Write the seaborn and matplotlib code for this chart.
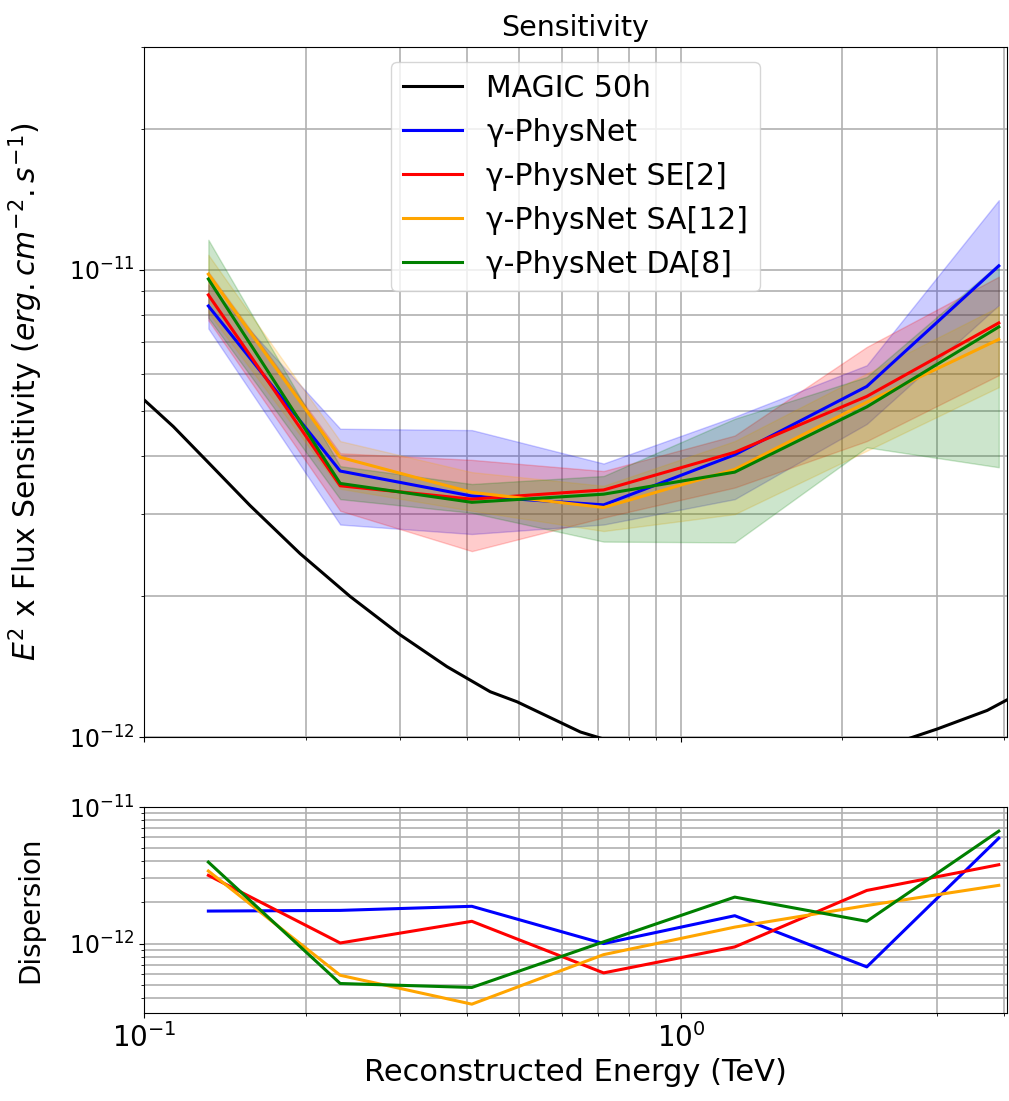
import numpy as np
import pandas as pd
import matplotlib
matplotlib.use("Agg")
import matplotlib.pyplot as plt
from matplotlib.ticker import NullFormatter
import seaborn as sns

# ---------------- data ----------------
energy = [0.1318, 0.232, 0.408, 0.718, 1.26, 2.22, 3.91]

magic_e = [0.1004, 0.1134, 0.1309, 0.1576, 0.1953, 0.242, 0.300, 0.3666, 0.4415,
           0.495, 0.650, 0.718, 1.0, 1.4, 2.0, 2.64, 3.00, 3.72, 4.10]
magic_v = [5.25e-12, 4.62e-12, 3.90e-12, 3.13e-12, 2.47e-12, 2.0e-12, 1.655e-12,
           1.415e-12, 1.25e-12, 1.19e-12, 1.025e-12, 0.99e-12, 0.90e-12, 0.86e-12,
           0.90e-12, 0.99e-12, 1.04e-12, 1.14e-12, 1.21e-12]

sens_blue = [8.37e-12, 3.71e-12, 3.28e-12, 3.14e-12, 4.02e-12, 5.63e-12, 1.02e-11]
sens_red = [8.84e-12, 3.45e-12, 3.23e-12, 3.38e-12, 4.07e-12, 5.36e-12, 7.7e-12]
sens_orange = [9.79e-12, 3.97e-12, 3.34e-12, 3.10e-12, 3.74e-12, 5.21e-12, 7.1e-12]
sens_green = [9.56e-12, 3.49e-12, 3.18e-12, 3.31e-12, 3.69e-12, 5.09e-12, 7.55e-12]

blue_lo = [7.49e-12, 2.85e-12, 2.72e-12, 2.85e-12, 3.23e-12, 4.68e-12, 8.4e-12]
blue_hi = [9.3e-12, 4.57e-12, 4.54e-12, 3.85e-12, 4.85e-12, 6.25e-12, 1.41e-11]
red_lo = [7.8e-12, 3.05e-12, 2.5e-12, 2.95e-12, 3.42e-12, 4.3e-12, 5.95e-12]
red_hi = [9.9e-12, 4.05e-12, 3.92e-12, 3.71e-12, 4.42e-12, 6.84e-12, 9.67e-12]
orange_lo = [8.1e-12, 3.4e-12, 3.05e-12, 2.76e-12, 3.0e-12, 4.1e-12, 5.61e-12]
orange_hi = [1.077e-11, 4.3e-12, 3.69e-12, 3.45e-12, 4.3e-12, 6.0e-12, 8.34e-12]
green_lo = [7.9e-12, 3.23e-12, 3.02e-12, 2.62e-12, 2.61e-12, 4.17e-12, 3.78e-12]
green_hi = [1.16e-11, 3.8e-12, 3.48e-12, 3.62e-12, 4.8e-12, 5.9e-12, 1.03e-11]

disp_blue = [1.73e-12, 1.75e-12, 1.875e-12, 1.0e-12, 1.6e-12, 0.675e-12, 5.92e-12]
disp_red = [3.16e-12, 1.01e-12, 1.456e-12, 0.61e-12, 0.945e-12, 2.45e-12, 3.78e-12]
disp_orange = [3.4e-12, 0.586e-12, 0.36e-12, 0.83e-12, 1.32e-12, 1.9e-12, 2.67e-12]
disp_green = [3.95e-12, 0.51e-12, 0.477e-12, 1.03e-12, 2.19e-12, 1.456e-12, 6.66e-12]

labels = ["γ-PhysNet", "γ-PhysNet SE[2]", "γ-PhysNet SA[12]", "γ-PhysNet DA[8]"]
colors = ["blue", "red", "orange", "green"]

# ---------------- plot ----------------
plt.rcParams['font.family'] = ['DejaVu Sans']
fig = plt.figure(figsize=(10.09, 11.01), dpi=100)
ax1 = fig.add_axes([0.1427, 0.3306, 0.8553, 0.6267])
ax2 = fig.add_axes([0.1427, 0.0799, 0.8553, 0.1871])

for ax in (ax1, ax2):
    ax.set_xscale('log')
    ax.set_yscale('log')

sns.lineplot(x=magic_e, y=magic_v, ax=ax1, color='black', lw=2.2, label='MAGIC 50h')

sens = [sens_blue, sens_red, sens_orange, sens_green]
los = [blue_lo, red_lo, orange_lo, green_lo]
his = [blue_hi, red_hi, orange_hi, green_hi]
disp = [disp_blue, disp_red, disp_orange, disp_green]

for s, lo, hi, c, lab in zip(sens, los, his, colors, labels):
    sns.lineplot(x=energy, y=s, ax=ax1, color=c, lw=2.2, label=lab)
    ax1.fill_between(energy, lo, hi, color=c, alpha=0.2, lw=1)

for d, c in zip(disp, colors):
    sns.lineplot(x=energy, y=d, ax=ax2, color=c, lw=2.2)

for ax in (ax1, ax2):
    ax.set_xlim(0.1, 4.05)
    ax.grid(True, which='both', color='#b0b0b0', lw=1.2)
    ax.set_axisbelow(True)
    ax.tick_params(axis='y', which='major', labelsize=17)
    ax.xaxis.set_minor_formatter(NullFormatter())
    ax.yaxis.set_minor_formatter(NullFormatter())

ax1.set_ylim(1e-12, 3e-11)
ax2.set_ylim(3.1e-13, 1e-11)

ax1.tick_params(axis='x', which='both', labelbottom=False)
ax2.tick_params(axis='x', which='major', labelsize=20)

ax1.set_title('Sensitivity', fontsize=20.5, pad=8)
ax1.set_ylabel(r'$E^2$ x Flux Sensitivity $(erg.cm^{-2}.s^{-1})$', fontsize=21.5)
ax2.set_ylabel('Dispersion', fontsize=20)
ax2.set_xlabel('Reconstructed Energy (TeV)', fontsize=22)
ax1.yaxis.set_label_coords(-0.115, 0.5)
ax2.yaxis.set_label_coords(-0.115, 0.5)

ax1.legend(loc='upper center', fontsize=21.5)

fig.savefig('out.png', dpi=100)
